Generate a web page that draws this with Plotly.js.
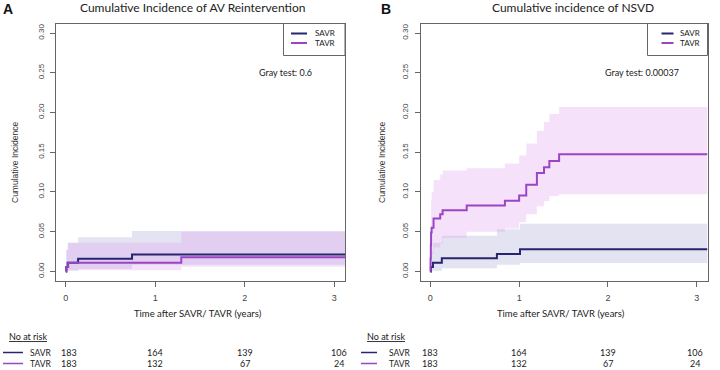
<!DOCTYPE html>
<html>
<head>
<meta charset="utf-8">
<script src="https://cdn.plot.ly/plotly-3.0.1.min.js"></script>
<style>
  html, body { margin: 0; padding: 0; background: #fff; }
  #chart { width: 720px; height: 370px; }
</style>
</head>
<body>
<div id="chart"></div>
<script>
// ---- Series names and colours ----
const seriesNames = ['SAVR', 'TAVR'];
const lineColors = ['#28246f', '#9a45c4'];
const bandColors = ['rgba(185,185,222,0.40)', 'rgba(222,160,240,0.30)'];

// ---- Panel A: AV reintervention ----
const aSavrTime  = [0, 0.005, 0.02, 0.137, 0.74, 3.12];
const aSavrCif   = [0, 0.0055, 0.011, 0.016, 0.0212, 0.0212];
const aSavrUpper = [0, 0.027, 0.036, 0.043, 0.051, 0.051];
const aSavrLower = [0, 0.0005, 0.001, 0.003, 0.0085, 0.0085];

const aTavrTime  = [0, 0.007, 0.026, 1.29, 3.12];
const aTavrCif   = [0, 0.0055, 0.011, 0.018, 0.018];
const aTavrUpper = [0, 0.027, 0.036, 0.050, 0.050];
const aTavrLower = [0, 0.0005, 0.0015, 0.006, 0.006];

// ---- Panel B: NSVD ----
const bSavrTime  = [0, 0.007, 0.03, 0.13, 0.75, 1.01, 3.12];
const bSavrCif   = [0, 0.0055, 0.011, 0.0165, 0.022, 0.028, 0.028];
const bSavrUpper = [0, 0.025, 0.036, 0.045, 0.053, 0.060, 0.060];
const bSavrLower = [0, 0.0003, 0.001, 0.004, 0.0085, 0.0106, 0.0106];

const bTavrTime  = [0, 0.003, 0.006, 0.009, 0.015, 0.037, 0.112, 0.139, 0.41, 0.84, 1.0, 1.08, 1.20, 1.28, 1.34, 1.45, 3.12];
const bTavrCif   = [0, 0.016, 0.033, 0.049, 0.055, 0.0665, 0.072, 0.077, 0.083, 0.089, 0.0955, 0.109, 0.124, 0.131, 0.139, 0.1475, 0.1475];
const bTavrUpper = [0, 0.045, 0.07, 0.09, 0.10, 0.115, 0.122, 0.127, 0.130, 0.136, 0.146, 0.161, 0.177, 0.188, 0.198, 0.207, 0.207];
const bTavrLower = [0, 0, 0.008, 0.018, 0.022, 0.030, 0.035, 0.042, 0.050, 0.054, 0.062, 0.072, 0.082, 0.0886, 0.095, 0.097, 0.097];

// ---- Number at risk ----
const riskTimes = [0, 1, 2, 3];
const riskSavr  = [183, 164, 139, 106];
const riskTavr  = [183, 132, 67, 24];

// ---- Text ----
const panelLetters = ['A', 'B'];
const panelTitles = ['Cumulative Incidence of AV Reintervention', 'Cumulative incidence of NSVD'];
const grayTests = ['Gray test: 0.6', 'Gray test: 0.00037'];
const yTitle = 'Cumulative Incidence';
const xTitle = 'Time after SAVR/ TAVR (years)';
const riskHeader = 'No at risk';
const yTicks = [0, 0.05, 0.10, 0.15, 0.20, 0.25, 0.30];
const xTicks = [0, 1, 2, 3];

const W = 720, H = 370;
const px = v => v / W;
const py = v => 1 - v / H;

const calibriLike = 'Lato, "Open Sans", sans-serif';
const rFont = '"Liberation Sans", Arial, sans-serif';

const panels = [
  { xa: 'x',  ya: 'y',  left: 56,    right: 345,
    series: [
      { t: aSavrTime, c: aSavrCif, u: aSavrUpper, l: aSavrLower },
      { t: aTavrTime, c: aTavrCif, u: aTavrUpper, l: aTavrLower }
    ],
    letterX: 8, titleX: 192, yTitleX: 15, grayX: 257,
    legendLeft: 283.5, legendLineX: [291, 307], legendTextX: 313,
    riskLineX: [3, 23], riskLabelX: 28, riskHeaderX: 7, riskShift: [3, 0, 0, 5] },
  { xa: 'x2', ya: 'y2', left: 420.5, right: 707.5,
    series: [
      { t: bSavrTime, c: bSavrCif, u: bSavrUpper, l: bSavrLower },
      { t: bTavrTime, c: bTavrCif, u: bTavrUpper, l: bTavrLower }
    ],
    letterX: 386, titleX: 573, yTitleX: 382, grayX: 603,
    legendLeft: 647.5, legendLineX: [661.5, 673.5], legendTextX: 678,
    riskLineX: [361, 377], riskLabelX: 387, riskHeaderX: 365, riskShift: [0, 0, 0, -2] }
];

const traces = [];
const annotations = [];
const shapes = [];
const layout = {
  width: W, height: H,
  margin: { l: 0, r: 0, t: 0, b: 0 },
  paper_bgcolor: '#fff', plot_bgcolor: '#fff',
  showlegend: false,
  annotations, shapes
};

panels.forEach((p, pi) => {
  const sfx = pi === 0 ? '' : '2';
  // confidence bands: lower edge, then upper edge filled down to it
  p.series.forEach((s, si) => {
    traces.push({ x: s.t, y: s.l, xaxis: p.xa, yaxis: p.ya, type: 'scatter', mode: 'lines',
      line: { shape: 'hv', width: 0, color: 'rgba(0,0,0,0)' }, hoverinfo: 'skip' });
    traces.push({ x: s.t, y: s.u, xaxis: p.xa, yaxis: p.ya, type: 'scatter', mode: 'lines',
      line: { shape: 'hv', width: 0, color: 'rgba(0,0,0,0)' }, fill: 'tonexty',
      fillcolor: bandColors[si], hoverinfo: 'skip' });
  });
  // cumulative incidence step curves
  p.series.forEach((s, si) => {
    traces.push({ x: s.t, y: s.c, xaxis: p.xa, yaxis: p.ya, type: 'scatter', mode: 'lines',
      name: seriesNames[si], line: { shape: 'hv', width: 2, color: lineColors[si] } });
  });

  layout['xaxis' + sfx] = {
    domain: [px(p.left), px(p.right)], range: [-0.11, 3.12], anchor: 'y' + sfx,
    tickvals: xTicks, ticks: 'outside', ticklen: 5, tickcolor: '#666', tickwidth: 1,
    showline: true, linecolor: '#666', linewidth: 1, mirror: true,
    showgrid: false, zeroline: false,
    tickfont: { family: rFont, size: 9, color: '#444' }, ticklabelstandoff: 3
  };
  layout['yaxis' + sfx] = {
    domain: [py(281), py(23.5)], range: [-0.012, 0.312], anchor: 'x' + sfx,
    tickvals: yTicks, tickformat: '.2f', tickangle: -90,
    ticks: 'outside', ticklen: 5, tickcolor: '#666', tickwidth: 1,
    showline: true, linecolor: '#666', linewidth: 1, mirror: true,
    showgrid: false, zeroline: false,
    tickfont: { family: rFont, size: 8, color: '#444' }, ticklabelstandoff: 3
  };

  const txt = (x, y, text, size, opts) => annotations.push(Object.assign({
    xref: 'paper', yref: 'paper', x: px(x), y: py(y), text, showarrow: false,
    xanchor: 'center', yanchor: 'middle',
    font: { family: calibriLike, size, color: '#222' }
  }, opts || {}));

  txt(p.letterX, 9, '<b>' + panelLetters[pi] + '</b>', 14, { font: { family: rFont, size: 14, color: '#111' } });
  txt(p.titleX, 7, panelTitles[pi], 12, { font: { family: calibriLike, size: 12, color: '#222' } });
  txt(p.yTitleX, 162, yTitle, 8.5, { textangle: -90, font: { family: rFont, size: 8.5, color: '#333' } });
  txt((p.left + p.right) / 2 - 3, 313, xTitle, 9.5);
  txt(p.grayX, 72, grayTests[pi], 9, { xanchor: 'left' });

  // legend box in the top-right corner of each panel
  shapes.push({ type: 'rect', xref: 'paper', yref: 'paper',
    x0: px(p.legendLeft), x1: px(p.right), y0: py(55.5), y1: py(23.5),
    line: { color: '#666', width: 1 }, fillcolor: 'rgba(0,0,0,0)' });
  [33.5, 43].forEach((ly, si) => {
    shapes.push({ type: 'line', xref: 'paper', yref: 'paper',
      x0: px(p.legendLineX[0]), x1: px(p.legendLineX[1]), y0: py(ly), y1: py(ly),
      line: { color: lineColors[si], width: 2 } });
    txt(p.legendTextX, ly, seriesNames[si], 8, { xanchor: 'left', font: { family: calibriLike, size: 8, color: '#222' } });
  });

  // number-at-risk table under each panel
  txt(p.riskHeaderX, 336, '<u>' + riskHeader + '</u>', 9, { xanchor: 'left' });
  [riskSavr, riskTavr].forEach((row, si) => {
    const ry = si === 0 ? 352.5 : 363.5;
    shapes.push({ type: 'line', xref: 'paper', yref: 'paper',
      x0: px(p.riskLineX[0]), x1: px(p.riskLineX[1]), y0: py(ry), y1: py(ry),
      line: { color: lineColors[si], width: 1.5 } });
    txt(p.riskLabelX, ry, seriesNames[si], 8.5, { xanchor: 'left' });
    row.forEach((n, k) => {
      annotations.push({ xref: p.xa, yref: 'paper', x: riskTimes[k], y: py(ry),
        xshift: p.riskShift[k], text: String(n), showarrow: false,
        xanchor: 'center', yanchor: 'middle',
        font: { family: calibriLike, size: 9, color: '#222' } });
    });
  });
});

Plotly.newPlot('chart', traces, layout, { staticPlot: true, displayModeBar: false });
</script>
</body>
</html>
